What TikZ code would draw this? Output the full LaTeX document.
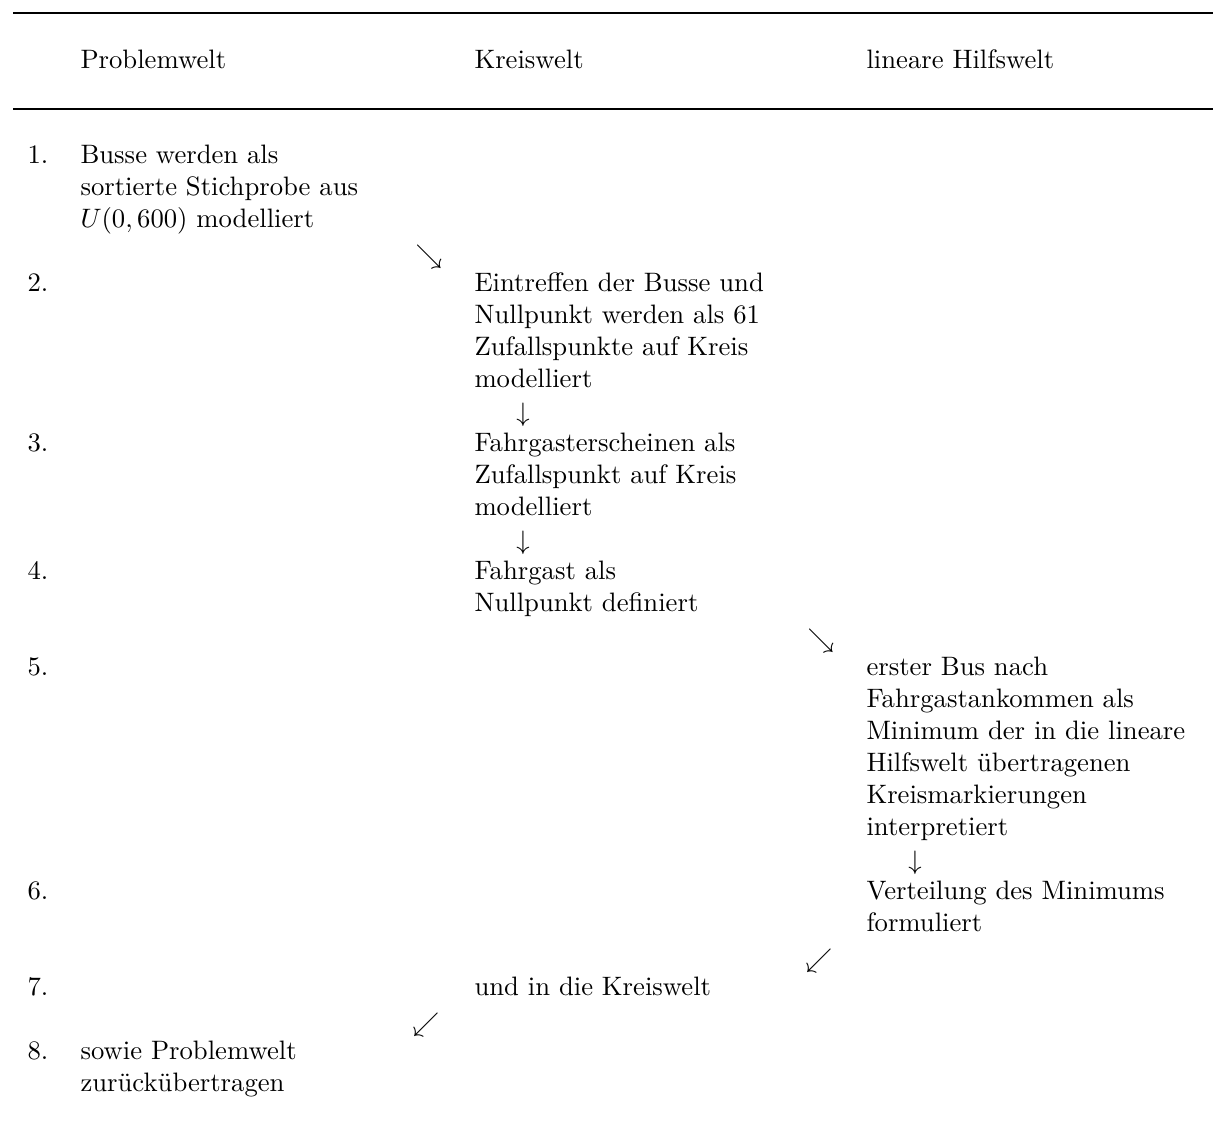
\documentclass[tikz,border=0pt]{standalone}
\usetikzlibrary{positioning}

\tikzset{
  cell/.style={anchor=base west, align=left, inner sep=0pt},
  stepmark/.style={anchor=base, inner sep=0pt},
  tablerule/.style={line width=0.9pt}
}

\begin{document}
\begin{tikzpicture}[x=0.375pt, y=-0.375pt]
        \useasboundingbox (0,0) rectangle (1213,1124);

        % Draw top and middle rules of the table
        \draw[tablerule] (13,13) -- (1213,13);
        \draw[tablerule] (13,109) -- (1213,109);

        % Column headings
        \node[cell] (hProblem) at (80,68) {Problemwelt};
        \node[cell] (hKreis) at (474,68) {Kreiswelt};
        \node[cell] (hHilf) at (866,68) {lineare Hilfswelt};

        % Step numbers
        \foreach \n/\y in {1/163, 2/291, 3/451, 4/579, 5/675, 6/899, 7/995, 8/1059} {
            \node[cell] (num\n) at (27,\y) {\n.};
        }

        % Problemwelt (anchored at the baseline of the last line)
        \node[cell] (busse) at (80,227) {Busse werden als\\sortierte Stichprobe aus\\$U(0,600)$ modelliert};
        \node[cell] (zurueck) at (80,1091) {sowie Problemwelt\\zurückübertragen};

        % Kreiswelt
        \node[cell] (eintreffen) at (474,387) {Eintreffen der Busse und\\Nullpunkt werden als 61\\Zufallspunkte auf Kreis\\modelliert};
        \node[cell] (fahrgast) at (474,515) {Fahrgasterscheinen als\\Zufallspunkt auf Kreis\\modelliert};
        \node[cell] (nullpunkt) at (474,611) {Fahrgast als\\Nullpunkt definiert};
        \node[cell] (kreiswelt) at (474,995) {und in die Kreiswelt};

        % lineare Hilfswelt
        \node[cell] (ersterBus) at (866,835) {erster Bus nach\\Fahrgastankommen als\\Minimum der in die lineare\\Hilfswelt übertragenen\\Kreismarkierungen\\interpretiert};
        \node[cell] (verteilung) at (866,931) {Verteilung des Minimums\\formuliert};

        % Arrows between the steps
        \foreach \x/\y/\arr/\name in {429/263/\searrow/a1, 523/421/\downarrow/a2, 523/549/\downarrow/a3,
                                      821/647/\searrow/a4, 915/869/\downarrow/a5, 819/967/\swarrow/a6,
                                      426/1031/\swarrow/a7} {
            \node[stepmark] (\name) at (\x,\y) {$\arr$};
        }

    \end{tikzpicture}
\end{document}
